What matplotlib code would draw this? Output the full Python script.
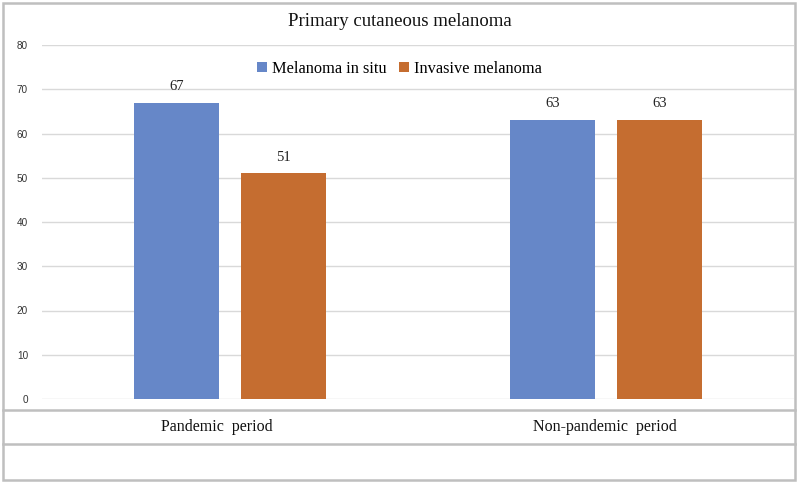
import matplotlib.pyplot as plt
from matplotlib.lines import Line2D
from matplotlib.patches import Rectangle, Patch
import numpy as np

categories = ["Pandemic  period", "Non-pandemic  period"]
series_names = ["Melanoma in situ", "Invasive melanoma"]
in_situ = [67, 63]
invasive = [51, 63]
colors = ["#6687C8", "#C56D30"]

W, H = 799, 483
fig = plt.figure(figsize=(W / 100, H / 100), dpi=100)

# plot area in pixel coords
left, right, y0, y80 = 42, 794, 399, 45
ax = fig.add_axes([left / W, (H - y0) / H, (right - left) / W, (y0 - y80) / H])

x = np.arange(len(categories))
bw = 0.227
off = 0.143
b1 = ax.bar(x - off, in_situ, bw, color=colors[0], zorder=3)
b2 = ax.bar(x + off, invasive, bw, color=colors[1], zorder=3)

for bars in (b1, b2):
    for rect in bars:
        ax.text(rect.get_x() + rect.get_width() / 2, rect.get_height() + 2.2,
                f"{rect.get_height():g}", ha="center", va="bottom",
                family="Liberation Serif", fontsize=10.5, color="#222222")

ax.set_xlim(-0.5, len(categories) - 0.5)
ax.set_ylim(0, 80)
ax.set_yticks(range(0, 81, 10))
ax.set_xticks([])
ax.grid(axis="y", color="#D9D9D9", linewidth=1, zorder=0)
for s in ax.spines.values():
    s.set_visible(False)
ax.tick_params(axis="y", length=0, pad=10, labelsize=7.2, labelcolor="#333333")
for lab in ax.get_yticklabels():
    lab.set_family("Liberation Sans")

# title and legend
fig.text(0.5, 1 - 22 / H, "Primary cutaneous melanoma", ha="center", va="center",
         family="Liberation Serif", fontsize=13.5, color="#111111")
handles = [Patch(facecolor=c, edgecolor="none") for c in colors]
fig.legend(handles, series_names, loc="center", bbox_to_anchor=(0.5, 1 - 69 / H),
           ncol=2, frameon=False, prop={"family": "Liberation Serif", "size": 11.8},
           handlelength=0.6, handleheight=0.6, handletextpad=0.3, columnspacing=0.8)

# table-like area below the axis
for yy in (410, 444):
    fig.add_artist(Line2D([3 / W, 795 / W], [1 - yy / H, 1 - yy / H],
                          color="#BFBFBF", linewidth=1.8))
label_x = [217, 605]
for cat, xc in zip(categories, label_x):
    fig.text(xc / W, 1 - 427 / H, cat, ha="center", va="center",
             family="Liberation Serif", fontsize=11.5, color="#111111")

# outer border
fig.add_artist(Rectangle((3 / W, 3 / H), 792 / W, 477 / H, transform=fig.transFigure,
                         fill=False, edgecolor="#BFBFBF", linewidth=1.8))

fig.savefig("out.png", dpi=100)
